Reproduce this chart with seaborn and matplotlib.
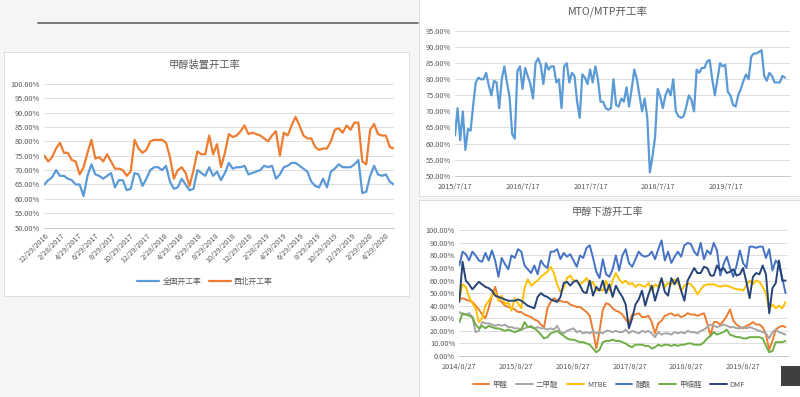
import numpy as np
import pandas as pd
import matplotlib
matplotlib.use('Agg')
import matplotlib.pyplot as plt
from matplotlib.patches import Rectangle
from matplotlib.lines import Line2D
import seaborn as sns

# 甲醇装置开工率（双周取值，%）
plant_dates = pd.date_range('2016-12-29', periods=90, freq='14D')
national = [65, 66.5, 67.5, 70, 68, 68, 67, 66.5, 65, 65,
            61, 68, 72, 68.5, 68, 67, 68, 69, 64, 66.5,
            66.5, 63, 63.5, 69, 68.5, 64.5, 67, 70, 71, 71,
            70, 71.5, 66, 63.5, 64, 67, 65, 63, 63.5, 70,
            69, 68, 71, 68, 69.5, 66.5, 69, 72.5, 70.5, 71,
            71, 71.5, 68.5, 69, 69.5, 70, 71.5, 71, 71.5, 67,
            68.5, 71, 71.5, 72.5, 72.5, 71.5, 70.5, 69.5, 66, 64.5,
            64, 67, 64, 69.5, 70.5, 72, 71, 71, 71, 72,
            73.5, 62, 62.5, 68, 71.5, 68.5, 68, 68.5, 66, 65]
northwest = [75, 73, 74.5, 77.5, 79.5, 76, 76, 73.5, 73, 68.5,
             71, 76, 80.5, 74, 74.5, 73, 75.5, 73, 70.5, 70.5,
             70, 68, 69.5, 80.5, 77.5, 76, 77, 80, 80.5, 80.5,
             80.5, 79.5, 74.5, 67, 70, 71, 69, 64.5, 70, 76.5,
             75.5, 75.5, 82, 75.5, 79, 71, 76, 82.5, 81.5, 82,
             83.5, 85.5, 82.5, 83, 82.5, 82, 81, 80, 82, 83.5,
             75, 83, 82, 85.5, 88.5, 85.5, 82, 81, 81, 78,
             77, 77.5, 77.5, 80, 84, 84.5, 83, 85.5, 84, 86.5,
             86.5, 73, 72, 84, 86, 82.5, 82, 82, 78, 77.5]
plant_ticks = ['12/29/2016', '2/28/2017', '4/29/2017', '6/29/2017', '8/29/2017',
               '10/29/2017', '12/29/2017', '2/28/2018', '4/29/2018', '6/29/2018',
               '8/29/2018', '10/29/2018', '12/29/2018', '2/28/2019', '4/29/2019',
               '6/29/2019', '8/29/2019', '10/29/2019', '12/29/2019', '2/29/2020',
               '4/29/2020']

# MTO/MTP开工率（双周取值，%）
mto_dates = pd.date_range('2015-07-17', periods=128, freq='14D')
mto = [62.5, 71, 61, 70, 58, 64.5, 64, 72, 79, 80.5,
       80, 80, 82, 78, 75, 79.5, 79, 71, 80, 84,
       79, 74.5, 63, 61.5, 82.5, 84, 77, 83.5, 81, 78.5,
       74, 85, 86.5, 84.5, 78.5, 85, 83, 84, 84, 79,
       80, 71, 84, 85, 79, 82, 81, 73, 68, 81.5,
       80.5, 78.5, 83, 79, 84, 80, 73, 73, 71, 70.5,
       71, 80, 72, 71.5, 74, 73, 77.5, 71.5, 77, 83,
       80, 75, 70, 74, 68, 51, 56, 62, 77, 74.5,
       71, 75, 77, 75, 80, 70, 68.5, 68, 68.5, 71.5,
       75, 73.5, 70, 83, 82, 83.5, 83.5, 85.5, 86, 80,
       75, 80, 85, 84, 84.5, 76, 75, 72, 71.5, 75,
       77, 79.5, 81.5, 80, 87, 88, 88, 88.5, 89, 81,
       79.5, 82, 81, 79, 79, 79, 81, 80.5]
mto_ticks = ['2015/7/17', '2016/7/17', '2017/7/17', '2018/7/17', '2019/7/17']

# 甲醇下游开工率（三周取值，%）
down_dates = pd.date_range('2014-08-27', periods=101, freq='21D')
formaldehyde = [45, 46, 45, 44, 43, 40, 37, 33, 30, 38,
                48, 55, 45, 43, 40, 39, 38, 37, 35, 35,
                33, 32, 31, 29, 28, 25, 23, 38, 43, 46,
                44, 44, 43, 43, 41, 40, 39, 39, 37, 35,
                32, 20, 6, 20, 37, 42, 41, 38, 36, 35,
                33, 29, 26, 33, 33, 34, 31, 31, 32, 27,
                18, 26, 28, 32, 33, 34, 32, 33, 31, 32,
                34, 33, 33, 32, 33, 34, 26, 16, 27, 27,
                25, 28, 32, 37, 28, 25, 23, 22, 24, 25,
                27, 25, 25, 23, 17, 5, 12, 21, 23, 24, 23]
dme = [35, 33, 33, 34, 31, 19, 20, 27, 26, 26,
       25, 24, 25, 24, 25, 23, 23, 22, 22, 21,
       22, 23, 24, 22, 23, 22, 22, 21, 22, 21,
       24, 19, 18, 20, 21, 22, 19, 20, 18, 19,
       18, 20, 18, 19, 18, 20, 20, 19, 20, 19,
       19, 21, 18, 20, 19, 18, 20, 19, 20, 18,
       15, 19, 17, 18, 18, 17, 19, 18, 19, 18,
       20, 19, 19, 18, 20, 21, 23, 25, 24, 23,
       24, 25, 24, 23, 23, 22, 22, 23, 22, 23,
       22, 21, 20, 19, 18, 14, 19, 21, 19, 18, 17]
mtbe = [45, 57, 55, 47, 42, 38, 27, 30, 40, 44,
        48, 51, 44, 48, 41, 43, 36, 46, 42, 38,
        54, 61, 56, 58, 60, 63, 65, 67, 71, 66,
        57, 51, 54, 62, 64, 60, 60, 57, 59, 62,
        57, 59, 52, 53, 52, 60, 52, 60, 66, 61,
        58, 60, 57, 58, 55, 57, 56, 55, 58, 52,
        57, 55, 61, 55, 58, 57, 61, 58, 52, 56,
        58, 57, 54, 49, 53, 56, 57, 57, 57, 56,
        55, 56, 56, 55, 54, 53, 53, 52, 56, 60,
        57, 60, 59, 55, 50, 37, 41, 38, 40, 38, 43]
acetic = [72, 83, 81, 76, 83, 80, 76, 75, 82, 76,
          84, 76, 63, 78, 73, 69, 80, 78, 85, 83,
          72, 69, 66, 72, 65, 76, 72, 70, 83, 83,
          85, 77, 82, 79, 81, 76, 71, 80, 78, 86,
          88, 78, 67, 62, 77, 65, 63, 69, 80, 68,
          80, 85, 74, 71, 77, 83, 80, 79, 80, 83,
          77, 85, 92, 76, 83, 74, 79, 83, 79, 88,
          90, 89, 83, 80, 90, 77, 84, 81, 90, 84,
          64, 73, 79, 70, 63, 72, 84, 74, 70, 87,
          87, 86, 87, 87, 78, 85, 68, 76, 73, 62, 50]
methylal = [27, 34, 33, 32, 31, 25, 22, 24, 22, 24,
            23, 22, 22, 21, 20, 21, 20, 19, 20, 21,
            27, 23, 23, 22, 20, 17, 14, 15, 18, 19,
            20, 18, 16, 14, 13, 13, 12, 11, 11, 10,
            9, 6, 3, 5, 11, 12, 12, 13, 12, 12,
            11, 10, 8, 7, 9, 9, 9, 8, 8, 6,
            7, 9, 8, 9, 9, 8, 9, 8, 9, 9,
            10, 10, 9, 9, 9, 11, 14, 16, 19, 17,
            18, 19, 21, 17, 16, 15, 15, 14, 14, 15,
            15, 15, 15, 14, 8, 3, 4, 11, 11, 11, 12]
dmf = [43, 75, 60, 57, 53, 56, 59, 57, 55, 54,
       52, 48, 47, 46, 45, 44, 44, 44, 45, 44,
       42, 40, 39, 38, 47, 50, 48, 47, 45, 44,
       43, 47, 58, 59, 56, 59, 60, 56, 51, 50,
       60, 48, 55, 52, 60, 50, 57, 47, 56, 51,
       47, 41, 22, 30, 41, 45, 52, 40, 49, 56,
       44, 53, 62, 51, 48, 62, 57, 62, 52, 44,
       60, 65, 70, 66, 66, 71, 70, 64, 64, 72,
       68, 70, 66, 67, 69, 64, 65, 70, 59, 46,
       63, 66, 65, 72, 65, 34, 54, 58, 76, 60, 60]
down_names = ['甲醛', '二甲醚', 'MTBE', '醋酸', '甲缩醛', 'DMF']
down_colors = ['#ED7D31', '#A5A5A5', '#FFC000', '#4472C4', '#70AD47', '#264478']
down_ticks = ['2014/8/27', '2015/8/27', '2016/8/27', '2017/8/27', '2018/8/27', '2019/8/27']

sns.set_theme(style='white')
plt.rcParams['font.family'] = ['Noto Sans CJK SC', 'DejaVu Sans']
plt.rcParams['axes.unicode_minus'] = False

W, H = 800, 397
TXT = '#595959'
fig = plt.figure(figsize=(W / 100, H / 100), dpi=100, facecolor='#f5f5f5')


def px_axes(l, t, r, b):
    return fig.add_axes([l / W, 1 - b / H, (r - l) / W, (b - t) / H])


def px_rect(l, t, r, b, z=-5, **kw):
    fig.patches.append(Rectangle((l / W, 1 - b / H), (r - l) / W, (b - t) / H,
                                 transform=fig.transFigure, zorder=z, **kw))


def ftext(x, y, s, **kw):
    fig.text(x / W, 1 - y / H, s, ha='center', va='center', color=TXT, **kw)


def style(ax, ymin, ymax, step):
    ticks = np.arange(ymin, ymax + 0.01, step)
    ax.set_ylim(ymin, ymax)
    ax.set_yticks(ticks)
    ax.set_yticklabels([f'{t:.2f}%' for t in ticks])
    ax.grid(axis='y', color='#d9d9d9', lw=0.6)
    ax.grid(axis='x', visible=False)
    for s in ['left', 'right', 'top']:
        ax.spines[s].set_visible(False)
    ax.spines['bottom'].set_color('#bfbfbf')
    ax.spines['bottom'].set_linewidth(0.6)
    ax.tick_params(axis='both', length=0, labelsize=5.3, colors=TXT, pad=3)
    ax.set_xlabel('')
    ax.set_ylabel('')
    ax.set_facecolor('none')


# 背景面板
fig.add_artist(Line2D([38 / W, 418 / W], [1 - 22.5 / H, 1 - 22.5 / H],
                      transform=fig.transFigure, color='#6e6e6e', lw=1.3, zorder=-4))
px_rect(4, 52, 409, 296, facecolor='white', edgecolor='#d9d9d9', lw=0.6)
px_rect(419, -1, 801, 196, facecolor='white', edgecolor='#d9d9d9', lw=0.6)
px_rect(419, 200, 801, 398, facecolor='white', edgecolor='#d9d9d9', lw=0.6)
px_rect(781, 366, 800, 386, z=10, facecolor='#3f3f3f', edgecolor='none')

# 左图：甲醇装置开工率
ax1 = px_axes(44.3, 83.7, 394, 227.7)
plant = pd.DataFrame({'date': list(plant_dates) * 2,
                      'value': national + northwest,
                      'series': ['全国开工率'] * 90 + ['西北开工率'] * 90})
sns.lineplot(data=plant, x='date', y='value', hue='series',
             palette=['#5B9BD5', '#ED7D31'], linewidth=1.6, ax=ax1, legend=False)
style(ax1, 50, 100, 5)
ax1.set_xlim(pd.Timestamp('2016-12-29'), pd.Timestamp('2020-05-29'))
ax1.set_xticks(pd.to_datetime(plant_ticks, format='%m/%d/%Y'))
ax1.set_xticklabels(plant_ticks, rotation=45, ha='right', rotation_mode='anchor')
ftext(205, 65, '甲醇装置开工率', fontsize=7.4)
fig.legend(ax1.lines[:2], ['全国开工率', '西北开工率'], loc='center',
           bbox_to_anchor=(205 / W, 1 - 282 / H), ncol=2, frameon=False,
           fontsize=5.6, handlelength=2.8, columnspacing=1.0,
           handletextpad=0.4, labelcolor=TXT)

# 右上：MTO/MTP开工率
ax2 = px_axes(455, 31, 790, 175.7)
sns.lineplot(x=mto_dates, y=mto, color='#5B9BD5', linewidth=1.6, ax=ax2)
style(ax2, 50, 95, 5)
ax2.set_xlim(pd.Timestamp('2015-07-17'), pd.Timestamp('2020-06-25'))
ax2.set_xticks(pd.to_datetime(mto_ticks, format='%Y/%m/%d'))
ax2.set_xticklabels(mto_ticks)
ax2.tick_params(axis='x', pad=5)
ftext(608, 12, 'MTO/MTP开工率', fontsize=7.6)

# 右下：甲醇下游开工率
ax3 = px_axes(459.3, 230.3, 788, 356)
down = pd.DataFrame({
    'date': list(down_dates) * 6,
    'value': formaldehyde + dme + mtbe + acetic + methylal + dmf,
    'series': sum([[n] * len(down_dates) for n in down_names], []),
})
sns.lineplot(data=down, x='date', y='value', hue='series', hue_order=down_names,
             palette=down_colors, linewidth=1.4, ax=ax3, legend=False)
style(ax3, 0, 100, 10)
ax3.set_xlim(pd.Timestamp('2014-08-27'), pd.Timestamp('2020-06-12'))
ax3.set_xticks(pd.to_datetime(down_ticks, format='%Y/%m/%d'))
ax3.set_xticklabels(down_ticks)
ax3.tick_params(axis='x', pad=5)
ftext(608, 212, '甲醇下游开工率', fontsize=7.4)
fig.legend(ax3.lines[:6], down_names, loc='center',
           bbox_to_anchor=(609 / W, 1 - 385 / H), ncol=6, frameon=False,
           fontsize=5.4, handlelength=2.2, columnspacing=1.2,
           handletextpad=0.4, labelcolor=TXT)

fig.savefig('out.png', dpi=100, facecolor=fig.get_facecolor())
